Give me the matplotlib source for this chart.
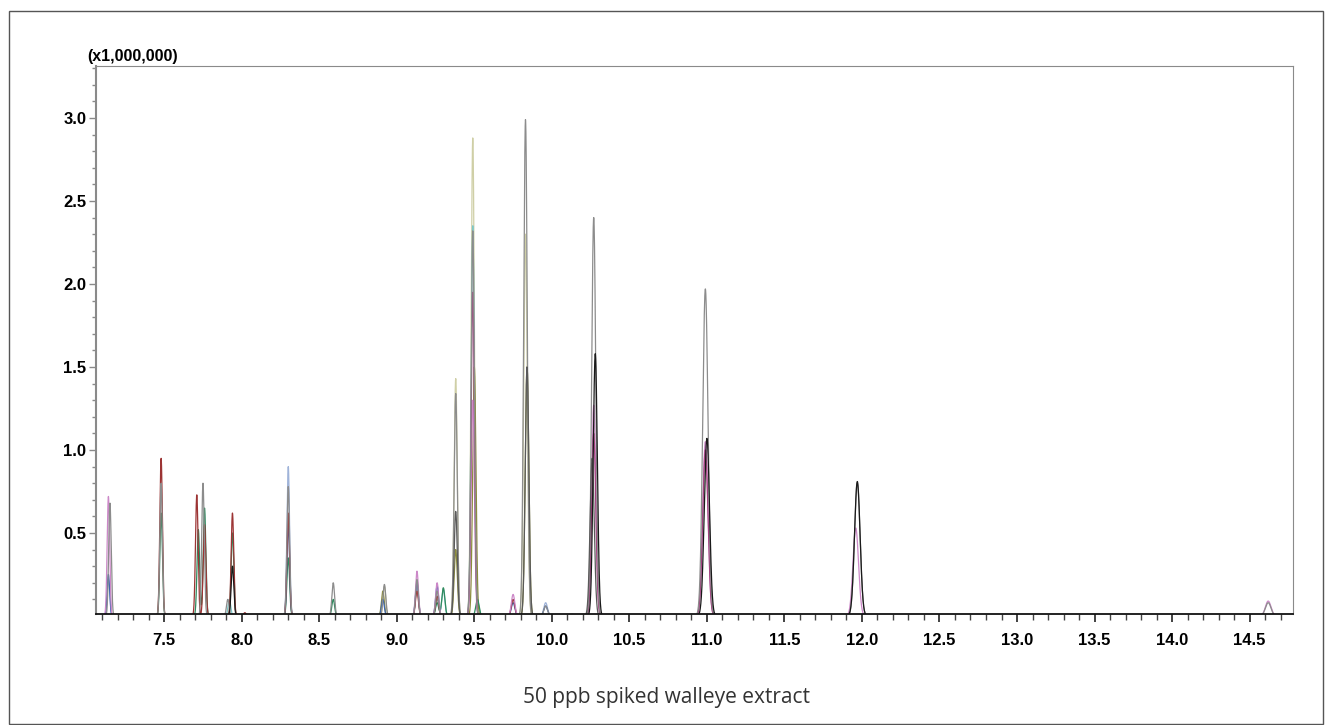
import numpy as np
import matplotlib.pyplot as plt
from matplotlib.ticker import MultipleLocator
from matplotlib.patches import Rectangle

# peak apexes per trace: retention time (min) and height (x1,000,000)
khaki_rt = [8.92, 9.38, 9.49, 9.83]
khaki_h = [0.18, 1.43, 2.88, 2.30]
teal_rt = [7.92, 9.26, 9.30, 9.49, 9.52]
teal_h = [0.10, 0.10, 0.16, 2.35, 0.08]
lightblue_rt = [7.14, 8.30, 9.13, 9.96]
lightblue_h = [0.22, 0.90, 0.20, 0.08]
olive_rt = [8.91, 9.38, 9.50, 9.84]
olive_h = [0.15, 0.40, 1.50, 1.50]
green_rt = [7.48, 7.72, 7.76, 7.94, 8.30, 8.59, 9.26, 9.30, 9.52]
green_h = [0.62, 0.52, 0.65, 0.50, 0.35, 0.10, 0.08, 0.17, 0.10]
blue_rt = [7.14, 8.30, 8.91, 9.13, 9.26, 9.75, 9.96]
blue_h = [0.25, 0.55, 0.10, 0.20, 0.18, 0.08, 0.06]
darkred_rt = [7.48, 7.71, 7.76, 7.94, 8.02, 8.30, 9.13, 9.26, 9.75]
darkred_h = [0.95, 0.73, 0.55, 0.62, 0.02, 0.62, 0.15, 0.12, 0.10]
pink_rt = [7.14, 9.13, 9.26, 9.49, 9.75, 10.27, 10.99, 11.96, 14.62]
pink_h = [0.72, 0.27, 0.20, 1.30, 0.13, 1.27, 1.05, 0.53, 0.09]
magenta_rt = [9.49, 10.27, 10.99]
magenta_h = [1.95, 1.10, 1.00]
gray_rt = [7.15, 7.48, 7.75, 7.91, 8.30, 8.59, 8.92, 9.13, 9.26, 9.38,
           9.49, 9.83, 9.96, 10.13, 10.27, 10.99, 11.97, 14.62]
gray_h = [0.68, 0.80, 0.80, 0.10, 0.78, 0.20, 0.19, 0.22, 0.15, 1.34,
          2.32, 2.99, 0.06, 0.01, 2.40, 1.97, 0.80, 0.08]
darkgray_rt = [9.38, 9.84, 10.26]
darkgray_h = [0.63, 1.50, 0.95]
black_rt = [7.94, 10.28, 11.00, 11.97]
black_h = [0.30, 1.58, 1.07, 0.81]

# approximate peak width (sigma, min) along the run
width_rt = [7.0, 9.0, 10.0, 11.0, 12.0, 15.0]
width_sigma = [0.008, 0.009, 0.012, 0.017, 0.018, 0.018]

traces = [
    (khaki_rt, khaki_h, '#cfcfa6'),
    (teal_rt, teal_h, '#7ec6c6'),
    (lightblue_rt, lightblue_h, '#9fb3d9'),
    (olive_rt, olive_h, '#8c8c3c'),
    (green_rt, green_h, '#2f8a5e'),
    (blue_rt, blue_h, '#3c66b0'),
    (darkred_rt, darkred_h, '#9c3434'),
    (pink_rt, pink_h, '#cc88c8'),
    (magenta_rt, magenta_h, '#a2417f'),
    (gray_rt, gray_h, '#8c8c8c'),
    (darkgray_rt, darkgray_h, '#5a5a5a'),
    (black_rt, black_h, '#1a1a1a'),
]

t = np.linspace(7.0, 14.8, 16000)

fig = plt.figure(figsize=(13.32, 7.25), dpi=100)
ax = fig.add_axes([96 / 1332, 111 / 725, (1293 - 96) / 1332, (614 - 66) / 725])

for rts, hs, col in traces:
    sig = np.interp(rts, width_rt, width_sigma)
    y = np.zeros_like(t)
    for r, h, s in zip(rts, hs, sig):
        y = y + h * np.exp(-0.5 * ((t - r) / s) ** 2)
    ax.plot(t, y, color=col, lw=0.9)

ax.set_xlim(7.06, 14.78)
ax.set_ylim(0.012, 3.313)

ax.xaxis.set_major_locator(MultipleLocator(0.5))
ax.xaxis.set_minor_locator(MultipleLocator(0.1))
ax.set_yticks([0.5, 1.0, 1.5, 2.0, 2.5, 3.0])
ax.yaxis.set_minor_locator(MultipleLocator(0.1))
ax.xaxis.set_major_formatter(plt.FormatStrFormatter('%.1f'))
ax.yaxis.set_major_formatter(plt.FormatStrFormatter('%.1f'))

ax.tick_params(axis='x', which='major', length=6, width=1.2, color='#222222',
               labelsize=12, pad=8)
ax.tick_params(axis='x', which='minor', length=4, width=1, color='#444444')
ax.tick_params(axis='y', which='major', length=5, width=1, color='#8a8a8a',
               labelsize=12, pad=2)
ax.tick_params(axis='y', which='minor', length=3, width=1, color='#8a8a8a')
for lab in ax.get_xticklabels() + ax.get_yticklabels():
    lab.set_fontweight('bold')
    lab.set_fontfamily('Liberation Sans')

ax.spines['left'].set_color('#8a8a8a')
ax.spines['left'].set_linewidth(1.5)
ax.spines['bottom'].set_color('#111111')
ax.spines['bottom'].set_linewidth(1.3)
ax.spines['top'].set_color('#8a8a8a')
ax.spines['right'].set_color('#8a8a8a')

fig.text(87 / 1332, (725 - 57) / 725, '(x1,000,000)', fontsize=11.5,
         fontweight='bold', family='Liberation Sans', va='center', ha='left')
fig.text(667 / 1332, (725 - 698) / 725, '50 ppb spiked walleye extract',
         fontsize=15, family='Open Sans', color='#333333', ha='center', va='center')

fig.patches.append(Rectangle((9 / 1332, 1 / 725), 1314 / 1332, 713 / 725,
                             transform=fig.transFigure, fill=False,
                             edgecolor='#555555', lw=1))

fig.savefig('out.png', dpi=100)
